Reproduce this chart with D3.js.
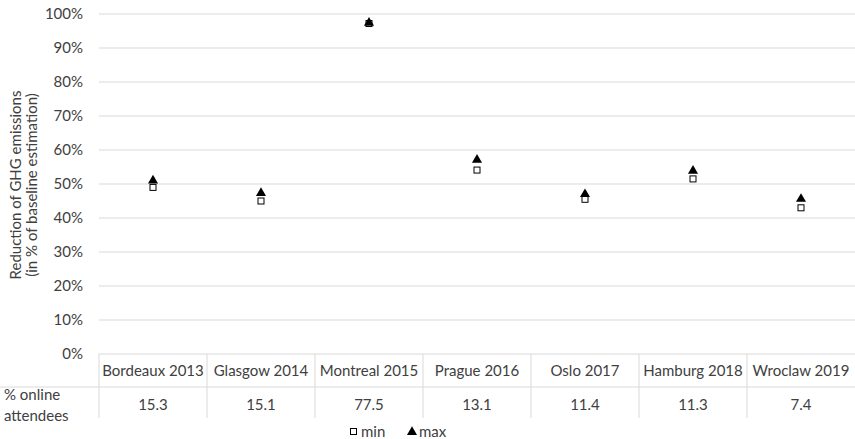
<!DOCTYPE html>
<html><head><meta charset="utf-8">
<script src="https://cdn.jsdelivr.net/npm/d3@7"></script>
<style>body{margin:0;background:#fff}svg{display:block}text{font-family:Lato,"Open Sans",sans-serif}</style>
</head><body>
<script>
const categories = ["Bordeaux 2013","Glasgow 2014","Montreal 2015","Prague 2016","Oslo 2017","Hamburg 2018","Wroclaw 2019"];
const minValues = [49.0,45.0,97.2,54.1,45.5,51.5,43.0];
const maxValues = [51.0,47.3,97.4,57.1,47.0,53.9,45.6];
const onlineShare = ["15.3","15.1","77.5","13.1","11.4","11.3","7.4"];
const yTicks = [0,10,20,30,40,50,60,70,80,90,100];

const W=855,H=439;
const svg=d3.select("body").append("svg").attr("width",W).attr("height",H);
const x=d3.scaleBand().domain(categories).range([99,855]);
const y=d3.scaleLinear().domain([0,100]).range([354,14]);
const txt="#404040", grid="#d9d9d9", fs=15;

// gridlines
svg.append("g").selectAll("line").data(yTicks).join("line")
  .attr("x1",99).attr("x2",855).attr("y1",d=>y(d)).attr("y2",d=>y(d))
  .attr("stroke",grid).attr("stroke-width",1);
// y labels
svg.append("g").selectAll("text").data(yTicks).join("text")
  .attr("x",83).attr("y",d=>y(d)).attr("dy","0.35em").attr("text-anchor","end")
  .attr("font-size",fs).attr("fill",txt).text(d=>d+"%");
// y title
const yt=svg.append("text").attr("transform","translate(21,185) rotate(-90)").attr("text-anchor","middle")
  .attr("font-size",fs).attr("fill",txt);
yt.append("tspan").attr("x",0).attr("dy",0).text("Reduction of GHG emissions");
yt.append("tspan").attr("x",0).attr("dy",16).text("(in % of baseline estimation)");

// table
const tb=svg.append("g");
tb.append("line").attr("x1",0).attr("x2",855).attr("y1",387).attr("y2",387).attr("stroke",grid);
tb.selectAll("line.v").data(categories).join("line").attr("class","v")
  .attr("x1",d=>x(d)).attr("x2",d=>x(d)).attr("y1",354).attr("y2",418).attr("stroke",grid);
tb.selectAll("text.c").data(categories).join("text").attr("class","c")
  .attr("x",d=>x(d)+x.bandwidth()/2).attr("y",376).attr("text-anchor","middle")
  .attr("font-size",fs).attr("fill",txt).text(d=>d);
tb.selectAll("text.v").data(onlineShare).join("text").attr("class","v")
  .attr("x",(d,i)=>x(categories[i])+x.bandwidth()/2).attr("y",410).attr("text-anchor","middle")
  .attr("font-size",fs).attr("fill",txt).text(d=>d);
tb.append("text").attr("x",4).attr("y",400).attr("font-size",fs).attr("fill",txt).text("% online");
tb.append("text").attr("x",4).attr("y",421).attr("font-size",fs).attr("fill",txt).text("attendees");

// markers
const tri=d3.symbol().type(d3.symbolTriangle).size(44);
svg.append("g").selectAll("rect").data(minValues).join("rect")
  .attr("x",(d,i)=>x(categories[i])+x.bandwidth()/2-3).attr("y",d=>y(d)-3)
  .attr("width",6).attr("height",6).attr("fill","#fff").attr("stroke","#000").attr("stroke-width",1);
svg.append("g").selectAll("path").data(maxValues).join("path")
  .attr("d",tri).attr("transform",(d,i)=>`translate(${x(categories[i])+x.bandwidth()/2},${y(d)})`)
  .attr("fill","#000");

// legend
const lg=svg.append("g");
lg.append("rect").attr("x",350.5).attr("y",428.5).attr("width",6).attr("height",6).attr("fill","#fff").attr("stroke","#000");
lg.append("text").attr("x",361).attr("y",437).attr("font-size",fs).attr("fill",txt).text("min");
lg.append("path").attr("d",tri).attr("transform","translate(412,432)").attr("fill","#000");
lg.append("text").attr("x",419).attr("y",437).attr("font-size",fs).attr("fill",txt).text("max");
</script>
</body></html>
